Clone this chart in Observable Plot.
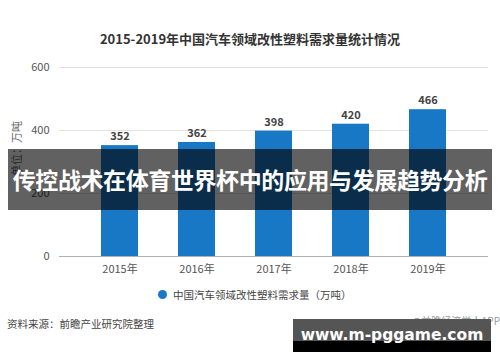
<!DOCTYPE html>
<html><head><meta charset="utf-8">
<script src="https://cdn.jsdelivr.net/npm/d3@7"></script>
<script src="https://cdn.jsdelivr.net/npm/@observablehq/plot@0.6"></script>
<style>
body{margin:0;background:#fff;}
#wrap{position:relative;width:500px;height:362px;overflow:hidden;background:#fff;font-family:"Noto Sans CJK SC","Noto Sans",sans-serif;}
.abs{position:absolute;}
#title{left:0;width:500px;top:29px;text-align:center;font-size:13px;font-weight:bold;color:#333;}
#chart{left:0;top:55px;}
#legend{left:158px;top:287px;font-size:10.5px;color:#444;display:flex;align-items:center;white-space:nowrap;}
#legend span.dot{display:inline-block;width:9px;height:9px;border-radius:50%;background:#1878c5;margin-right:6px;}
#source{left:7px;top:316px;font-size:10.5px;color:#444;}
#banner{left:8px;top:149px;width:484px;height:61px;background:rgba(0,0,0,0.62);color:#fff;font-weight:bold;font-size:23px;line-height:61px;text-align:center;white-space:nowrap;letter-spacing:-0.4px;}
#app{right:0;top:313px;font-size:10px;color:#999;white-space:nowrap;}
#wm{left:293px;top:319px;width:198px;height:33px;background:linear-gradient(#555 0,#555 66%,#000 66%,#000 100%);color:#fff;font-family:"DejaVu Sans",sans-serif;font-weight:bold;font-size:15.5px;line-height:33px;text-align:center;white-space:nowrap;}
</style></head>
<body>
<div id="wrap">
  <div id="title" class="abs"></div>
  <div id="chart" class="abs"></div>
  <div id="legend" class="abs"><span class="dot"></span><span id="legtext"></span></div>
  <div id="source" class="abs"></div>
  <div id="banner" class="abs"></div>
  <div id="app" class="abs"></div>
  <div id="wm" class="abs"></div>
</div>
<script>
const years = ["2015年","2016年","2017年","2018年","2019年"];
const demand = [352, 362, 398, 420, 466];
const yTicks = [0, 200, 400, 600];
const titleText = "2015-2019年中国汽车领域改性塑料需求量统计情况";
const yLabel = "单位：万吨";
const legendText = "中国汽车领域改性塑料需求量（万吨）";
const sourceText = "资料来源：前瞻产业研究院整理";
const bannerText = "传控战术在体育世界杯中的应用与发展趋势分析";
const appText = "@前瞻经济学人APP";
const wmText = "www.m-pggame.com";

const data = years.map((y, i) => ({year: y, value: demand[i]}));

document.getElementById("title").textContent = titleText;
document.getElementById("legtext").textContent = legendText;
document.getElementById("source").textContent = sourceText;
document.getElementById("banner").textContent = bannerText;
document.getElementById("app").textContent = appText;
document.getElementById("wm").textContent = wmText;

const chart = Plot.plot({
  width: 500,
  height: 230,
  marginLeft: 59,
  marginRight: 12,
  marginTop: 12,
  marginBottom: 29,
  style: {fontFamily: '"Noto Sans CJK SC","Noto Sans",sans-serif', background: "transparent"},
  x: {domain: years, padding: 0.52, label: null},
  y: {domain: [0, 600], ticks: yTicks, label: null},
  marks: [
    Plot.ruleY(yTicks.filter(d => d > 0), {stroke: "#e2e2e2", strokeWidth: 1}),
    Plot.barY(data, {x: "year", y: "value", fill: "#1878c5"}),
    Plot.ruleY([0], {stroke: "#b0b0b0", strokeWidth: 1}),
    Plot.text(data, {x: "year", y: "value", text: d => String(d.value), dy: -9, fontSize: 11, fontWeight: "bold", fill: "#444"}),
    Plot.axisX({tickSize: 0, tickPadding: 9, fontSize: 11, color: "#555"}),
    Plot.axisY({ticks: yTicks, tickSize: 0, tickPadding: 10, fontSize: 11, color: "#555", label: null}),
    Plot.text([yLabel], {frameAnchor: "left", dx: -42, rotate: -90, fontSize: 11, fill: "#666", dy: 14})
  ]
});
document.getElementById("chart").appendChild(chart);
</script>
</body></html>
